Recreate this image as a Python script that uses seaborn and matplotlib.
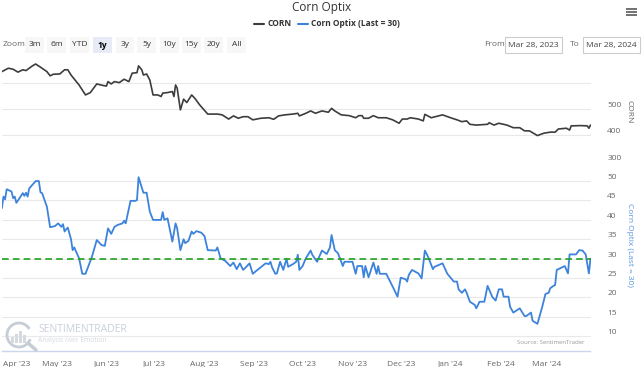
import numpy as np
import pandas as pd
import matplotlib
matplotlib.use('Agg')
import matplotlib.pyplot as plt
import matplotlib.dates as mdates
import matplotlib.transforms as mtransforms
import seaborn as sns
from matplotlib.patches import Rectangle, Arc

# ---------------- data ----------------
start_date = "2023-03-28"
end_date = "2024-03-28"

corn_day = [0, 4, 7, 10, 13, 15, 19, 21, 24, 28,
            30, 32, 36, 39, 41, 43, 48, 52, 55, 59,
            63, 65, 66, 68, 70, 73, 76, 79, 81, 84,
            85, 87, 88, 90, 92, 94, 97, 99, 100, 103,
            106, 107, 108, 109, 111, 113, 115, 118, 120, 123,
            128, 134, 137, 141, 144, 147, 150, 153, 156, 161,
            166, 169, 172, 176, 181, 184, 185, 189, 192, 195,
            199, 203, 205, 207, 211, 216, 220, 222, 224, 225,
            228, 231, 234, 239, 243, 247, 249, 252, 254, 259,
            262, 263, 267, 274, 279, 283, 286, 289, 291, 295,
            302, 303, 306, 309, 314, 318, 322, 325, 328, 333,
            337, 341, 344, 346, 351, 353, 354, 360, 364, 365,
            366]
corn_val = [643, 656, 652, 641, 650, 647, 665, 672, 660, 643,
            627, 633, 634, 650, 650, 630, 592, 554, 563, 596,
            590, 588, 605, 596, 605, 601, 614, 605, 637, 639,
            665, 650, 630, 634, 611, 554, 554, 548, 561, 563,
            567, 548, 592, 580, 497, 538, 525, 554, 541, 516,
            481, 481, 478, 462, 474, 465, 471, 471, 459, 465,
            467, 461, 474, 478, 481, 484, 474, 484, 493, 484,
            493, 488, 503, 493, 478, 475, 467, 475, 475, 465,
            465, 475, 467, 467, 459, 446, 462, 462, 467, 462,
            455, 480, 467, 478, 467, 459, 452, 455, 442, 439,
            442, 448, 439, 446, 439, 429, 429, 417, 417, 399,
            408, 412, 412, 424, 427, 420, 436, 437, 436, 427,
            439]

optix_day = [0, 1, 2, 3, 6, 7, 8, 9, 11, 13,
             14, 15, 16, 17, 21, 23, 24, 25, 28, 30,
             33, 35, 37, 38, 39, 40, 41, 43, 44, 45,
             48, 50, 52, 56, 59, 62, 64, 66, 68, 70,
             72, 75, 76, 77, 80, 83, 84, 85, 88, 90,
             92, 94, 97, 99, 100, 101, 103, 106, 108, 109,
             111, 113, 114, 116, 118, 119, 121, 124, 126, 128,
             133, 134, 136, 139, 142, 144, 146, 148, 150, 152,
             154, 156, 158, 164, 166, 167, 168, 170, 171, 173,
             175, 177, 178, 181, 183, 184, 185, 187, 189, 192,
             193, 196, 199, 202, 204, 205, 207, 209, 211, 212,
             213, 218, 220, 221, 224, 225, 226, 228, 231, 233,
             234, 235, 239, 243, 246, 248, 251, 252, 253, 255,
             259, 261, 263, 265, 268, 269, 274, 277, 281, 283,
             284, 286, 288, 289, 291, 294, 295, 297, 300, 302,
             305, 307, 309, 311, 312, 315, 316, 318, 322, 325,
             326, 329, 330, 333, 336, 338, 340, 341, 343, 344,
             345, 350, 352, 353, 357, 359, 361, 363, 365, 366]
optix_val = [43.0, 46.0, 45.3, 47.9, 47.3, 45.6, 46.0, 44.4, 45.6, 46.9,
             46.2, 47.0, 46.0, 48.1, 50.0, 50.0, 47.1, 46.9, 43.4, 38.1,
             38.4, 39.1, 38.2, 38.9, 37.0, 37.6, 38.0, 35.0, 32.2, 32.9,
             30.1, 26.1, 26.1, 30.5, 34.8, 33.5, 33.3, 37.8, 36.4, 38.2,
             38.7, 39.1, 39.8, 39.1, 44.9, 44.9, 45.1, 51.0, 47.0, 47.0,
             42.1, 40.0, 40.0, 40.0, 42.0, 40.0, 40.4, 34.4, 39.1, 37.8,
             32.2, 35.0, 34.0, 34.6, 37.0, 36.4, 37.1, 36.7, 35.8, 32.2,
             32.1, 32.9, 30.1, 29.4, 28.1, 29.0, 27.3, 28.8, 27.1, 27.9,
             28.8, 26.1, 26.8, 28.8, 28.6, 29.2, 27.8, 26.1, 26.2, 29.2,
             27.1, 30.0, 27.9, 28.6, 29.2, 31.0, 27.1, 28.1, 30.1, 32.1,
             31.0, 29.2, 32.1, 31.2, 32.9, 36.1, 32.2, 31.4, 29.2, 28.1,
             29.2, 29.2, 26.1, 28.1, 28.1, 25.2, 28.1, 25.2, 29.0, 26.1,
             28.1, 26.1, 26.1, 22.8, 20.2, 25.1, 24.7, 24.1, 25.8, 27.1,
             26.2, 24.9, 32.1, 30.5, 27.3, 27.9, 28.8, 26.1, 24.1, 24.1,
             22.1, 21.2, 22.1, 21.2, 18.9, 18.1, 17.2, 18.9, 18.9, 23.0,
             20.1, 19.2, 22.1, 22.1, 20.2, 20.2, 17.6, 16.1, 17.2, 15.2,
             15.2, 16.1, 14.0, 13.2, 17.6, 20.9, 21.2, 22.4, 23.0, 23.2,
             27.1, 28.1, 26.2, 31.1, 31.1, 32.2, 32.1, 31.1, 26.2, 30.0]

last_level = 30
corn_ticks = [300, 400, 500, 600]
corn_tick_labels = ["300", "400", "500", ""]
optix_ticks = [10, 15, 20, 25, 30, 35, 40, 45, 50]

title = "Corn Optix"
series_names = ["CORN", "Corn Optix (Last = 30)"]
zoom_buttons = ["3m", "6m", "YTD", "1y", "3y", "5y", "10y", "15y", "20y", "All"]

# ---------------- build frames ----------------
t0 = pd.Timestamp(start_date)
corn_df = pd.DataFrame({"date": t0 + pd.to_timedelta(corn_day, unit="D"), "value": corn_val})
optix_df = pd.DataFrame({"date": t0 + pd.to_timedelta(optix_day, unit="D"), "value": optix_val})

# ---------------- style ----------------
sns.set_style("white")
plt.rcParams["font.family"] = ["Open Sans", "DejaVu Sans"]

W, H = 643, 367
fig = plt.figure(figsize=(W / 100, H / 100), dpi=100)
fig.patch.set_facecolor("white")


def fx(px):
    return px / W


def fy(py):
    return 1 - py / H


x0, x1 = 1.87, 590.5
ax_top = fig.add_axes([fx(x0), fy(161.5), fx(x1 - x0), (161.5 - 58) / H])
ax_bot = fig.add_axes([fx(x0), fy(351), fx(x1 - x0), (351 - 161.5) / H], sharex=ax_top)

GRID = "#e9e9e9"
LAB = "#666666"
BLUE = "#3c83dc"

sns.lineplot(data=corn_df, x="date", y="value", ax=ax_top, color="#3d3d3d",
             linewidth=1.2, estimator=None)
sns.lineplot(data=optix_df, x="date", y="value", ax=ax_bot, color=BLUE,
             linewidth=1.3, estimator=None)
ax_bot.axhline(last_level, color="#22a022", lw=1.2, ls=(0, (4, 2.5)), zorder=3)

for ax in (ax_top, ax_bot):
    ax.set_facecolor("none")
    for s in ax.spines.values():
        s.set_visible(False)
    ax.set_xlabel("")
    ax.set_ylabel("")
    ax.yaxis.tick_right()
    ax.yaxis.grid(True, color=GRID, lw=0.8)
    ax.xaxis.grid(False)
    ax.set_axisbelow(True)
    ax.tick_params(axis="y", length=0, pad=12, labelsize=6, labelcolor=LAB)

ax_top.set_xlim(pd.Timestamp(start_date), pd.Timestamp(end_date))
ax_top.set_ylim(300, 695)
ax_top.set_yticks(corn_ticks)
ax_top.set_yticklabels(corn_tick_labels)
ax_top.tick_params(axis="x", length=0, labelbottom=False)

ax_bot.set_ylim(6.2, 55.05)
ax_bot.set_yticks(optix_ticks)
ax_bot.set_yticklabels([str(v) for v in optix_ticks])
for lab in ax_bot.get_yticklabels() + ax_top.get_yticklabels():
    lab.set_verticalalignment("bottom")

ax_bot.spines["bottom"].set_visible(True)
ax_bot.spines["bottom"].set_color("#ccd6eb")
ax_bot.spines["bottom"].set_linewidth(1.0)
month_ticks = pd.date_range("2023-04-01", "2024-03-01", freq="MS")
ax_bot.set_xticks(month_ticks)
ax_bot.set_xticklabels([d.strftime("%b '%y") for d in month_ticks])
ax_bot.tick_params(axis="x", length=5, width=0.8, color="#ccd6eb", direction="out",
                   pad=2, labelsize=6, labelcolor=LAB)
first_lab = ax_bot.get_xticklabels()[0]
first_lab.set_horizontalalignment("left")
first_lab.set_transform(first_lab.get_transform() +
                        mtransforms.ScaledTranslation(-5.5 / 100, 0, fig.dpi_scale_trans))

# ---------------- axis titles ----------------
fig.text(fx(629), fy(112), series_names[0], rotation=270, ha="center", va="center",
         fontsize=6, color=LAB)
fig.text(fx(629), fy(245), series_names[1], rotation=270, ha="center", va="center",
         fontsize=6, color="#5b95e0")

# ---------------- header overlay ----------------
ov = fig.add_axes([0, 0, 1, 1])
ov.set_xlim(0, W)
ov.set_ylim(H, 0)
ov.axis("off")
ov.patch.set_alpha(0)

ov.text(322, 8, title, ha="center", va="center", fontsize=8.5, color="#333333")

# legend
ov.plot([254, 264], [24, 24], color="#3d3d3d", lw=1.5)
ov.text(267, 24, series_names[0], ha="left", va="center", fontsize=6, color="#333333",
        fontweight="bold")
ov.plot([298, 308], [24, 24], color=BLUE, lw=1.5)
ov.text(311, 24, series_names[1], ha="left", va="center", fontsize=6, color="#333333",
        fontweight="bold")

# menu icon
for yy in (9, 12, 15):
    ov.plot([626, 637], [yy, yy], color="#666666", lw=1.3, solid_capstyle="butt")

# zoom buttons
ov.text(3, 45, "Zoom", ha="left", va="center", fontsize=6, color="#666666")
btn_x = [25, 47, 70, 93, 116, 137, 160, 182, 204, 227]
btn_w = [19, 19, 19, 19, 18, 19, 19, 19, 19, 19]
for lbl, bx, bw in zip(zoom_buttons, btn_x, btn_w):
    sel = lbl == "1y"
    ov.add_patch(Rectangle((bx, 37), bw, 16, facecolor="#e6ebf5" if sel else "#f7f7f7",
                           edgecolor="none"))
    ov.text(bx + bw / 2, 45, lbl, ha="center", va="center", fontsize=6,
            color="#000000" if sel else "#333333", fontweight="bold" if sel else "normal")

ov.text(484, 45, "From", ha="left", va="center", fontsize=6, color="#666666")
ov.add_patch(Rectangle((505, 37), 57, 16, facecolor="white", edgecolor="#cccccc", lw=0.8))
ov.text(533.5, 45, "Mar 28, 2023", ha="center", va="center", fontsize=6, color="#444444")
ov.text(570, 45, "To", ha="left", va="center", fontsize=6, color="#666666")
ov.add_patch(Rectangle((583, 37), 57, 16, facecolor="white", edgecolor="#cccccc", lw=0.8))
ov.text(611.5, 45, "Mar 28, 2024", ha="center", va="center", fontsize=6, color="#444444")

# watermark
wm = "#c7cdd6"
ov.add_patch(Arc((19, 335), 24, 24, theta1=20, theta2=330, color=wm, lw=2))
for i, hgt in enumerate([6, 9, 12, 8]):
    ov.add_patch(Rectangle((11 + i * 4, 343 - hgt), 3, hgt, facecolor="#d5dae1", edgecolor="none"))
ov.plot([28, 36], [343, 350], color=wm, lw=2.5)
ov.text(38, 330, "SENTIMENTRADER", ha="left", va="center", fontsize=7.5, color="#c9d0da")
ov.text(38, 340, "Analysis over Emotion", ha="left", va="center", fontsize=4.8,
        color="#d3d8df")
ov.text(585, 343, "Source: SentimenTrader", ha="right", va="center", fontsize=4.3,
        color="#999999")

fig.savefig("out.png", dpi=100, facecolor="white")
